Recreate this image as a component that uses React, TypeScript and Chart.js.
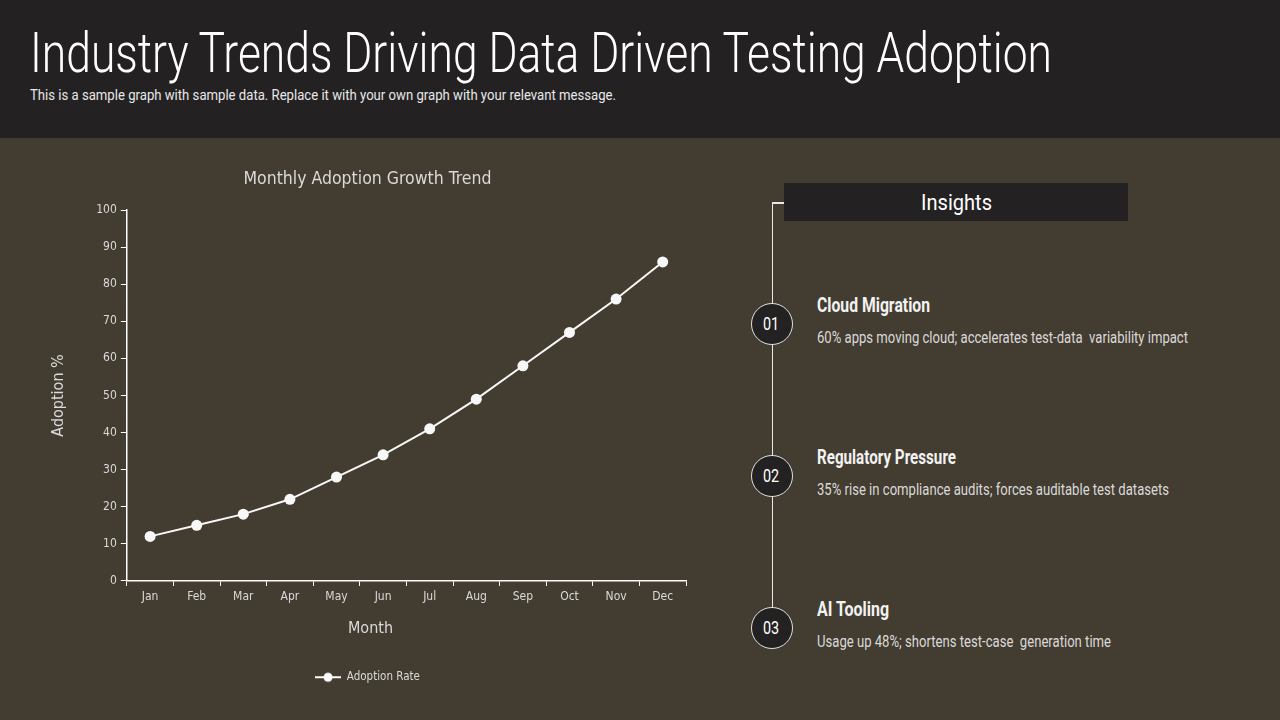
import React, { useEffect, useLayoutEffect, useRef } from "react";
import { Chart, registerables } from "chart.js";

Chart.register(...registerables);

const months = ["Jan", "Feb", "Mar", "Apr", "May", "Jun", "Jul", "Aug", "Sep", "Oct", "Nov", "Dec"];
const adoptionRate = [12, 15, 18, 22, 28, 34, 41, 49, 58, 67, 76, 86];
const yTicks = [0, 10, 20, 30, 40, 50, 60, 70, 80, 90, 100];

const insightTitles = ["Cloud Migration", "Regulatory Pressure", "AI Tooling"];
const insightTexts = [
  "60% apps moving cloud; accelerates test-data  variability impact",
  "35% rise in compliance audits; forces auditable test datasets",
  "Usage up 48%; shortens test-case  generation time",
];
const insightNumbers = ["01", "02", "03"];

// rendered widths of the condensed text runs
const titleWidths = [113, 139, 72];
const textWidths = [371, 352, 294];

const CANVAS_FONT = '"DejaVu Sans Condensed", "Liberation Sans Narrow", sans-serif';
const HTML_FONT = 'Roboto, "Liberation Sans", sans-serif';
const HEADER_BG = "#232122";
const BODY_BG = "#433c30";
const TEXT_LIGHT = "#dadada";
const X_TITLE = "Month";
const X_TITLE_SIZE = 16;
const X_TITLE_PAD_BOTTOM = 23;

// Text squeezed horizontally to a given width (condensed look)
function FitText({ width, style, children }: { width: number; style?: React.CSSProperties; children: React.ReactNode }) {
  const ref = useRef<HTMLSpanElement | null>(null);
  useLayoutEffect(() => {
    const el = ref.current;
    if (!el) return;
    el.style.transform = "none";
    const w = el.getBoundingClientRect().width;
    if (w > 0) el.style.transform = `scaleX(${width / w})`;
  }, [width]);
  return (
    <span
      ref={ref}
      style={{ display: "inline-block", transformOrigin: "left center", whiteSpace: "pre", ...style }}
    >
      {children}
    </span>
  );
}

function legendMarker(): HTMLCanvasElement {
  const c = document.createElement("canvas");
  c.width = 26;
  c.height = 12;
  const ctx = c.getContext("2d")!;
  ctx.strokeStyle = "#ffffff";
  ctx.lineWidth = 2;
  ctx.beginPath();
  ctx.moveTo(0, 6);
  ctx.lineTo(26, 6);
  ctx.stroke();
  ctx.fillStyle = "#ffffff";
  ctx.beginPath();
  ctx.arc(13, 6, 4.5, 0, Math.PI * 2);
  ctx.fill();
  return c;
}

// The x-axis title is centred under the whole chart (like the chart title and legend),
// so the scale only reserves its space and this plugin paints it.
const centeredXTitle = {
  id: "centeredXTitle",
  afterDraw(chart: any) {
    const xs = chart.scales.x;
    const lg = chart.legend;
    if (!xs || !lg) return;
    const ctx = chart.ctx;
    const lineH = X_TITLE_SIZE * 1.2;
    const cx = lg.left + lg.width / 2 + 3;
    const cy = xs.bottom - X_TITLE_PAD_BOTTOM - lineH / 2;
    ctx.save();
    ctx.font = `${X_TITLE_SIZE}px ${CANVAS_FONT}`;
    ctx.fillStyle = TEXT_LIGHT;
    ctx.textAlign = "center";
    ctx.textBaseline = "middle";
    ctx.fillText(X_TITLE, cx, cy);
    ctx.restore();
  },
};

function AdoptionChart() {
  const ref = useRef<HTMLCanvasElement | null>(null);
  useEffect(() => {
    if (!ref.current) return;
    const marker = legendMarker();
    const chart = new Chart(ref.current, {
      type: "line",
      data: {
        labels: months,
        datasets: [
          {
            label: "Adoption Rate",
            data: adoptionRate,
            borderColor: "#f8f8f8",
            backgroundColor: "#f8f8f8",
            borderWidth: 2,
            pointStyle: "circle",
            pointRadius: 5.5,
            pointBackgroundColor: "#f8f8f8",
            pointBorderWidth: 0,
            tension: 0,
          },
        ],
      },
      plugins: [centeredXTitle],
      options: {
        animation: false,
        responsive: true,
        maintainAspectRatio: false,
        layout: { padding: { left: 13, right: 24, top: 7, bottom: 5 } },
        plugins: {
          title: {
            display: true,
            text: "Monthly Adoption Growth Trend",
            color: TEXT_LIGHT,
            font: { family: CANVAS_FONT, size: 17.5, weight: "normal" },
            padding: { top: 4, bottom: 20 },
          },
          legend: {
            display: true,
            position: "bottom",
            labels: {
              color: TEXT_LIGHT,
              font: { family: CANVAS_FONT, size: 11.5 },
              usePointStyle: true,
              pointStyleWidth: 26,
              boxHeight: 12,
              generateLabels: (ch: any) =>
                ch.data.datasets.map((ds: any, i: number) => ({
                  text: ds.label,
                  fillStyle: "#ffffff",
                  strokeStyle: "#ffffff",
                  fontColor: TEXT_LIGHT,
                  pointStyle: marker,
                  datasetIndex: i,
                  hidden: false,
                  lineWidth: 0,
                })),
            },
          },
          tooltip: { enabled: false },
        },
        scales: {
          x: {
            offset: true,
            grid: {
              display: true,
              offset: true,
              drawOnChartArea: false,
              drawTicks: true,
              tickLength: 5,
              color: "#ffffff",
            },
            border: { display: true, color: "#ffffff", width: 1.5 },
            ticks: { color: TEXT_LIGHT, font: { family: CANVAS_FONT, size: 12 }, padding: 4 },
            title: {
              display: true,
              text: X_TITLE,
              color: "rgba(0,0,0,0)",
              font: { family: CANVAS_FONT, size: X_TITLE_SIZE },
              padding: { top: 11, bottom: X_TITLE_PAD_BOTTOM },
            },
          },
          y: {
            min: 0,
            max: 100,
            afterBuildTicks: (axis: any) => {
              axis.ticks = yTicks.map((v) => ({ value: v }));
            },
            grid: {
              display: true,
              drawOnChartArea: false,
              drawTicks: true,
              tickLength: 6,
              color: "#ffffff",
            },
            border: { display: true, color: "#ffffff", width: 1.5 },
            ticks: { color: TEXT_LIGHT, font: { family: CANVAS_FONT, size: 12 }, padding: 4 },
            title: {
              display: true,
              text: "Adoption %",
              color: TEXT_LIGHT,
              font: { family: CANVAS_FONT, size: 16 },
              padding: { top: 0, bottom: 24 },
            },
          },
        },
      },
    });
    return () => chart.destroy();
  }, []);
  return <canvas ref={ref} />;
}

export default function App() {
  return (
    <div
      style={{
        position: "fixed",
        left: 0,
        top: 0,
        width: 1280,
        height: 720,
        background: BODY_BG,
        overflow: "hidden",
        fontFamily: HTML_FONT,
        color: "#ffffff",
      }}
    >
      <div style={{ position: "absolute", left: 0, top: 0, width: 1280, height: 138, background: HEADER_BG }}>
        <div style={{ position: "absolute", left: 30, top: 23, fontSize: 56, lineHeight: "60px", fontWeight: 300 }}>
          <FitText width={1022}>Industry Trends Driving Data Driven Testing Adoption</FitText>
        </div>
        <div style={{ position: "absolute", left: 30, top: 86, fontSize: 14, lineHeight: "18px", color: "#e8e8e8" }}>
          <FitText width={586}>
            This is a sample graph with sample data. Replace it with your own graph with your relevant message.
          </FitText>
        </div>
      </div>

      <div style={{ position: "absolute", left: 36, top: 158, width: 674, height: 540 }}>
        <AdoptionChart />
      </div>

      {/* Insights timeline */}
      <div style={{ position: "absolute", left: 771.5, top: 202, width: 1.5, height: 406, background: "#e8e8e8" }} />
      <div style={{ position: "absolute", left: 771.5, top: 202, width: 13, height: 1.5, background: "#e8e8e8" }} />
      <div style={{ position: "absolute", left: 784, top: 183, width: 344, height: 38, background: HEADER_BG }} />
      <div style={{ position: "absolute", left: 921, top: 191, fontSize: 22, lineHeight: "24px" }}>
        <FitText width={71}>Insights</FitText>
      </div>
      {insightTitles.map((t, i) => {
        const cy = 324.5 + i * 152;
        return (
          <React.Fragment key={t}>
            <div
              style={{
                position: "absolute",
                left: 772 - 21.5,
                top: cy - 21.5,
                width: 40,
                height: 40,
                borderRadius: "50%",
                border: "1.5px solid #e0e0e0",
                background: HEADER_BG,
                display: "flex",
                alignItems: "center",
                justifyContent: "center",
              }}
            >
              <span style={{ fontSize: 18, lineHeight: "20px", display: "inline-block", transform: "scaleX(0.8)" }}>
                {insightNumbers[i]}
              </span>
            </div>
            <div
              style={{
                position: "absolute",
                left: 817,
                top: cy - 19.5 - 12,
                fontSize: 20,
                fontWeight: 700,
                lineHeight: "24px",
                color: "#f2f2f2",
              }}
            >
              <FitText width={titleWidths[i]}>{t}</FitText>
            </div>
            <div
              style={{
                position: "absolute",
                left: 817,
                top: cy + 13.5 - 10,
                fontSize: 16,
                lineHeight: "20px",
                color: TEXT_LIGHT,
              }}
            >
              <FitText width={textWidths[i]}>{insightTexts[i]}</FitText>
            </div>
          </React.Fragment>
        );
      })}
    </div>
  );
}
